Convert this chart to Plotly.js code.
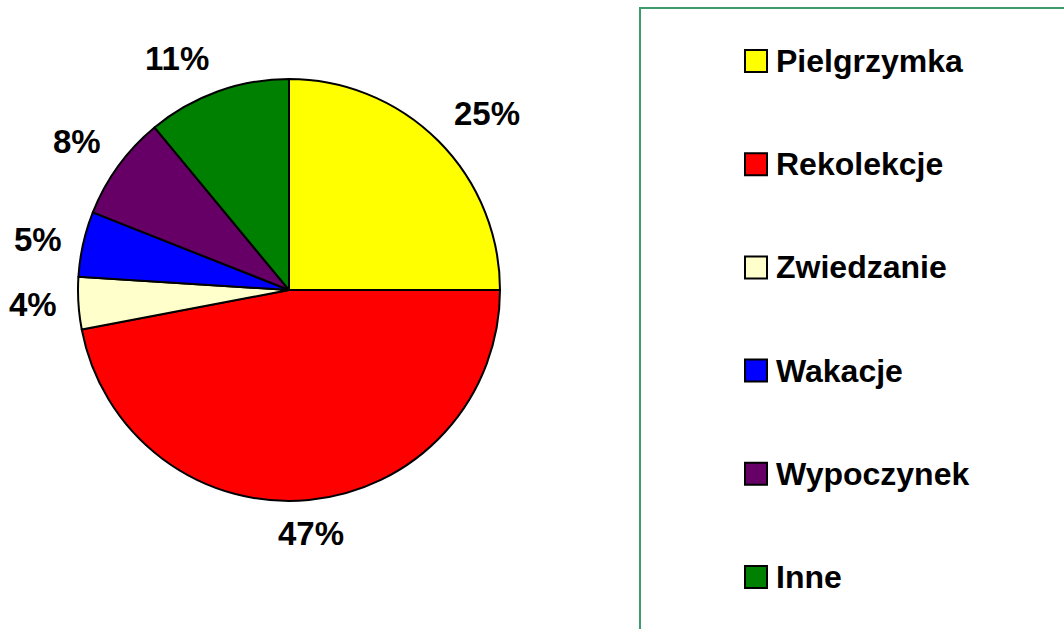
<!DOCTYPE html>
<html>
<head>
<meta charset="utf-8">
<script src="https://cdn.plot.ly/plotly-3.0.1.min.js"></script>
<style>
  html, body { margin: 0; padding: 0; background: #ffffff; }
  #chart { width: 1064px; height: 629px; }
</style>
</head>
<body>
<div id="chart"></div>
<script>
// Data
const categories = ["Pielgrzymka", "Rekolekcje", "Zwiedzanie", "Wakacje", "Wypoczynek", "Inne"];
const shares = [25, 47, 4, 5, 8, 11];
const sliceColors = ["#FFFF00", "#FF0000", "#FFFFCC", "#0000FF", "#660066", "#008000"];

const W = 1064, H = 629;
const FONT = "Liberation Sans, Arial, sans-serif";

// Pie geometry (layout only)
const PCX = 289, PCY = 290, PR = 211;

const pie = {
  type: "pie",
  labels: categories,
  values: shares,
  sort: false,
  direction: "clockwise",
  rotation: 0,
  marker: { colors: sliceColors, line: { color: "#000000", width: 2 } },
  textinfo: "none",
  hoverinfo: "label+percent",
  showlegend: false,
  automargin: false,
  domain: { x: [(PCX - PR) / W, (PCX + PR) / W], y: [(H - PCY - PR) / H, (H - PCY + PR) / H] }
};

const shapes = [
  { type: "rect", xref: "paper", yref: "paper",
    x0: 640 / W, x1: 1.2, y0: -0.2, y1: 1 - 8 / H,
    line: { color: "#3C9C6C", width: 2 }, fillcolor: "rgba(0,0,0,0)" }
];
const annotations = [];

// Percent labels placed outside each slice, Excel-style, from the data
const LBL_FS = 33, GAP = 22, HALF_H = 12;
const total = shares.reduce((s, v) => s + v, 0);
let cum = 0;
shares.forEach((v, i) => {
  const mid = (cum + v / 2) / total * 2 * Math.PI;
  cum += v;
  const ux = Math.sin(mid), uy = -Math.cos(mid);
  const txt = Math.round(v / total * 100) + "%";
  const halfW = 0.5 * LBL_FS * ((txt.length - 1) * 0.556 + 0.889);
  let px = PCX + (PR + GAP) * ux, py = PCY + (PR + GAP) * uy;
  if (ux > 0.3) px += halfW; else if (ux < -0.3) px -= halfW;
  if (uy > 0.3) py += HALF_H; else if (uy < -0.3) py -= HALF_H;
  annotations.push({ xref: "paper", yref: "paper", x: px / W, y: 1 - py / H,
    xanchor: "center", yanchor: "middle", showarrow: false, text: "<b>" + txt + "</b>",
    font: { family: FONT, size: LBL_FS, color: "#000000" } });
});

// Custom legend built from the data arrays
const legTop = 61, legStep = 103.2;
categories.forEach((c, i) => {
  const cy = legTop + i * legStep;
  shapes.push({ type: "rect", xref: "paper", yref: "paper",
    x0: 745 / W, x1: 767 / W, y0: 1 - (cy + 11) / H, y1: 1 - (cy - 11) / H,
    fillcolor: sliceColors[i], line: { color: "#000000", width: 2 } });
  annotations.push({ xref: "paper", yref: "paper", x: 774 / W, y: 1 - cy / H,
    xanchor: "left", yanchor: "middle", showarrow: false, text: "<b>" + c + "</b>",
    font: { family: FONT, size: 32, color: "#000000" } });
});

const layout = {
  width: W, height: H,
  margin: { l: 0, r: 0, t: 0, b: 0 },
  paper_bgcolor: "#ffffff",
  plot_bgcolor: "#ffffff",
  showlegend: false,
  shapes: shapes,
  annotations: annotations
};

Plotly.newPlot("chart", [pie], layout, { displayModeBar: false, staticPlot: true });
</script>
</body>
</html>
